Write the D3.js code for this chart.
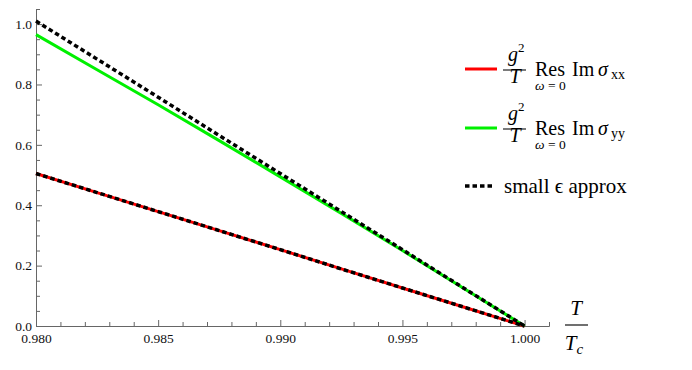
<!DOCTYPE html>
<html>
<head>
<meta charset="utf-8">
<script src="https://cdn.jsdelivr.net/npm/d3@7"></script>
<style>
  body { margin: 0; background: #fff; }
  svg text { font-family: "Liberation Serif", "DejaVu Serif", serif; }
</style>
</head>
<body>
<div id="chart"></div>
<script>
var svgWidth = 692;
var svgHeight = 370;

// data (T/Tc against value)
var tRatio = [0.980, 0.9825, 0.985, 0.9875, 0.990, 0.9925, 0.995, 0.9975, 1.000];
var resXX = [0.505, 0.442, 0.379, 0.316, 0.253, 0.189, 0.126, 0.063, 0.0];
var resYY = [0.965, 0.849, 0.733, 0.614, 0.494, 0.373, 0.250, 0.125, 0.0];
var approxXX = [0.505, 0.442, 0.379, 0.316, 0.253, 0.189, 0.126, 0.063, 0.0];
var approxYY = [1.010, 0.884, 0.758, 0.631, 0.505, 0.379, 0.253, 0.126, 0.0];

var xTicks = [0.980, 0.985, 0.990, 0.995, 1.000];
var xMinor = [0.981, 0.982, 0.983, 0.984, 0.986, 0.987, 0.988, 0.989, 0.991, 0.992,
              0.993, 0.994, 0.996, 0.997, 0.998, 0.999, 1.001];
var yTicks = [0.0, 0.2, 0.4, 0.6, 0.8, 1.0];
var yMinor = [0.05, 0.1, 0.15, 0.25, 0.3, 0.35, 0.45, 0.5, 0.55, 0.65, 0.7, 0.75,
              0.85, 0.9, 0.95, 1.05];

var svg = d3.select("#chart")
  .append("svg")
  .attr("width", svgWidth)
  .attr("height", svgHeight);

var xScale = d3.scaleLinear()
  .domain([0.980, 1.001])
  .range([36, 549]);

var yScale = d3.scaleLinear()
  .domain([0, 1.05])
  .range([326, 9]);

var axisColor = "#666";

// minor ticks first
svg.append("g")
  .attr("transform", "translate(0,326)")
  .call(d3.axisBottom(xScale).tickValues(xMinor).tickFormat("").tickSizeInner(-4).tickSizeOuter(0));
svg.append("g")
  .attr("transform", "translate(36,0)")
  .call(d3.axisLeft(yScale).tickValues(yMinor).tickFormat("").tickSizeInner(-4).tickSizeOuter(0));

svg.append("g")
  .attr("transform", "translate(0,326)")
  .call(d3.axisBottom(xScale).tickValues(xTicks).tickFormat(d3.format(".3f"))
    .tickSizeInner(-6).tickSizeOuter(0).tickPadding(7));

svg.append("g")
  .attr("transform", "translate(36,0)")
  .call(d3.axisLeft(yScale).tickValues(yTicks).tickFormat(d3.format(".1f"))
    .tickSizeInner(-6).tickSizeOuter(0).tickPadding(4));

svg.selectAll(".domain, .tick line").attr("stroke", axisColor);
svg.selectAll(".tick text")
  .attr("font-size", "13.5px")
  .attr("fill", "#111");

// curves
var line = d3.line()
  .x((d, i) => xScale(tRatio[i]))
  .y(d => yScale(d));

svg.append("path")
  .datum(resXX)
  .attr("d", line)
  .attr("fill", "none")
  .attr("stroke", "#ff0000")
  .attr("stroke-width", 3);

svg.append("path")
  .datum(resYY)
  .attr("d", line)
  .attr("fill", "none")
  .attr("stroke", "#00f000")
  .attr("stroke-width", 3);

[approxXX, approxYY].forEach(function(s) {
  svg.append("path")
    .datum(s)
    .attr("d", line)
    .attr("fill", "none")
    .attr("stroke", "#000")
    .attr("stroke-width", 3.5)
    .attr("stroke-dasharray", "4.5,3");
});

// x axis label T / Tc
var xl = svg.append("g").attr("transform", "translate(576,0)");
xl.append("text").attr("x", 0).attr("y", 315)
  .attr("text-anchor", "middle").attr("font-size", "21px").attr("font-style", "italic")
  .text("T");
xl.append("line").attr("x1", -11).attr("x2", 12).attr("y1", 325).attr("y2", 325)
  .attr("stroke", "#222").attr("stroke-width", 1.3);
xl.append("text").attr("x", -2).attr("y", 350)
  .attr("text-anchor", "middle").attr("font-size", "21px").attr("font-style", "italic")
  .text("T")
  .append("tspan").attr("font-size", "15px").attr("dy", 4).text("c");

// legend
var legendItems = [
  {color: "#ff0000", sub: "xx", y: 69},
  {color: "#00f000", sub: "yy", y: 128}
];

legendItems.forEach(function(item) {
  var g = svg.append("g").attr("transform", "translate(0," + item.y + ")");
  g.append("line").attr("x1", 465).attr("x2", 497).attr("y1", 0).attr("y2", 0)
    .attr("stroke", item.color).attr("stroke-width", 3);
  // g^2 / T
  g.append("text").attr("x", 508).attr("y", -8)
    .attr("font-size", "20px").attr("font-style", "italic").text("g");
  g.append("text").attr("x", 518).attr("y", -17)
    .attr("font-size", "13px").text("2");
  g.append("line").attr("x1", 503).attr("x2", 526).attr("y1", 1).attr("y2", 1)
    .attr("stroke", "#222").attr("stroke-width", 1.2);
  g.append("text").attr("x", 515).attr("y", 14).attr("text-anchor", "middle")
    .attr("font-size", "20px").attr("font-style", "italic").text("T");
  // Res Im sigma
  g.append("text").attr("x", 535).attr("y", 7).attr("font-size", "20px").text("Res");
  g.append("text").attr("x", 572).attr("y", 7).attr("font-size", "20px").text("Im");
  g.append("text").attr("x", 598).attr("y", 7).attr("font-size", "20px")
    .attr("font-style", "italic").text("σ");
  g.append("text").attr("x", 611).attr("y", 10).attr("font-size", "14px").text(item.sub);
  // omega = 0 under Res
  var w = g.append("text").attr("x", 535).attr("y", 21).attr("font-size", "13.5px");
  w.append("tspan").attr("font-style", "italic").text("ω");
  w.append("tspan").text(" = 0");
});

var ag = svg.append("g").attr("transform", "translate(0,186)");
ag.append("line").attr("x1", 465).attr("x2", 494).attr("y1", 0).attr("y2", 0)
  .attr("stroke", "#000").attr("stroke-width", 3.5).attr("stroke-dasharray", "4.5,3");
ag.append("text").attr("x", 504).attr("y", 7).attr("font-size", "21px")
  .text("small ϵ approx");
</script>
</body>
</html>
